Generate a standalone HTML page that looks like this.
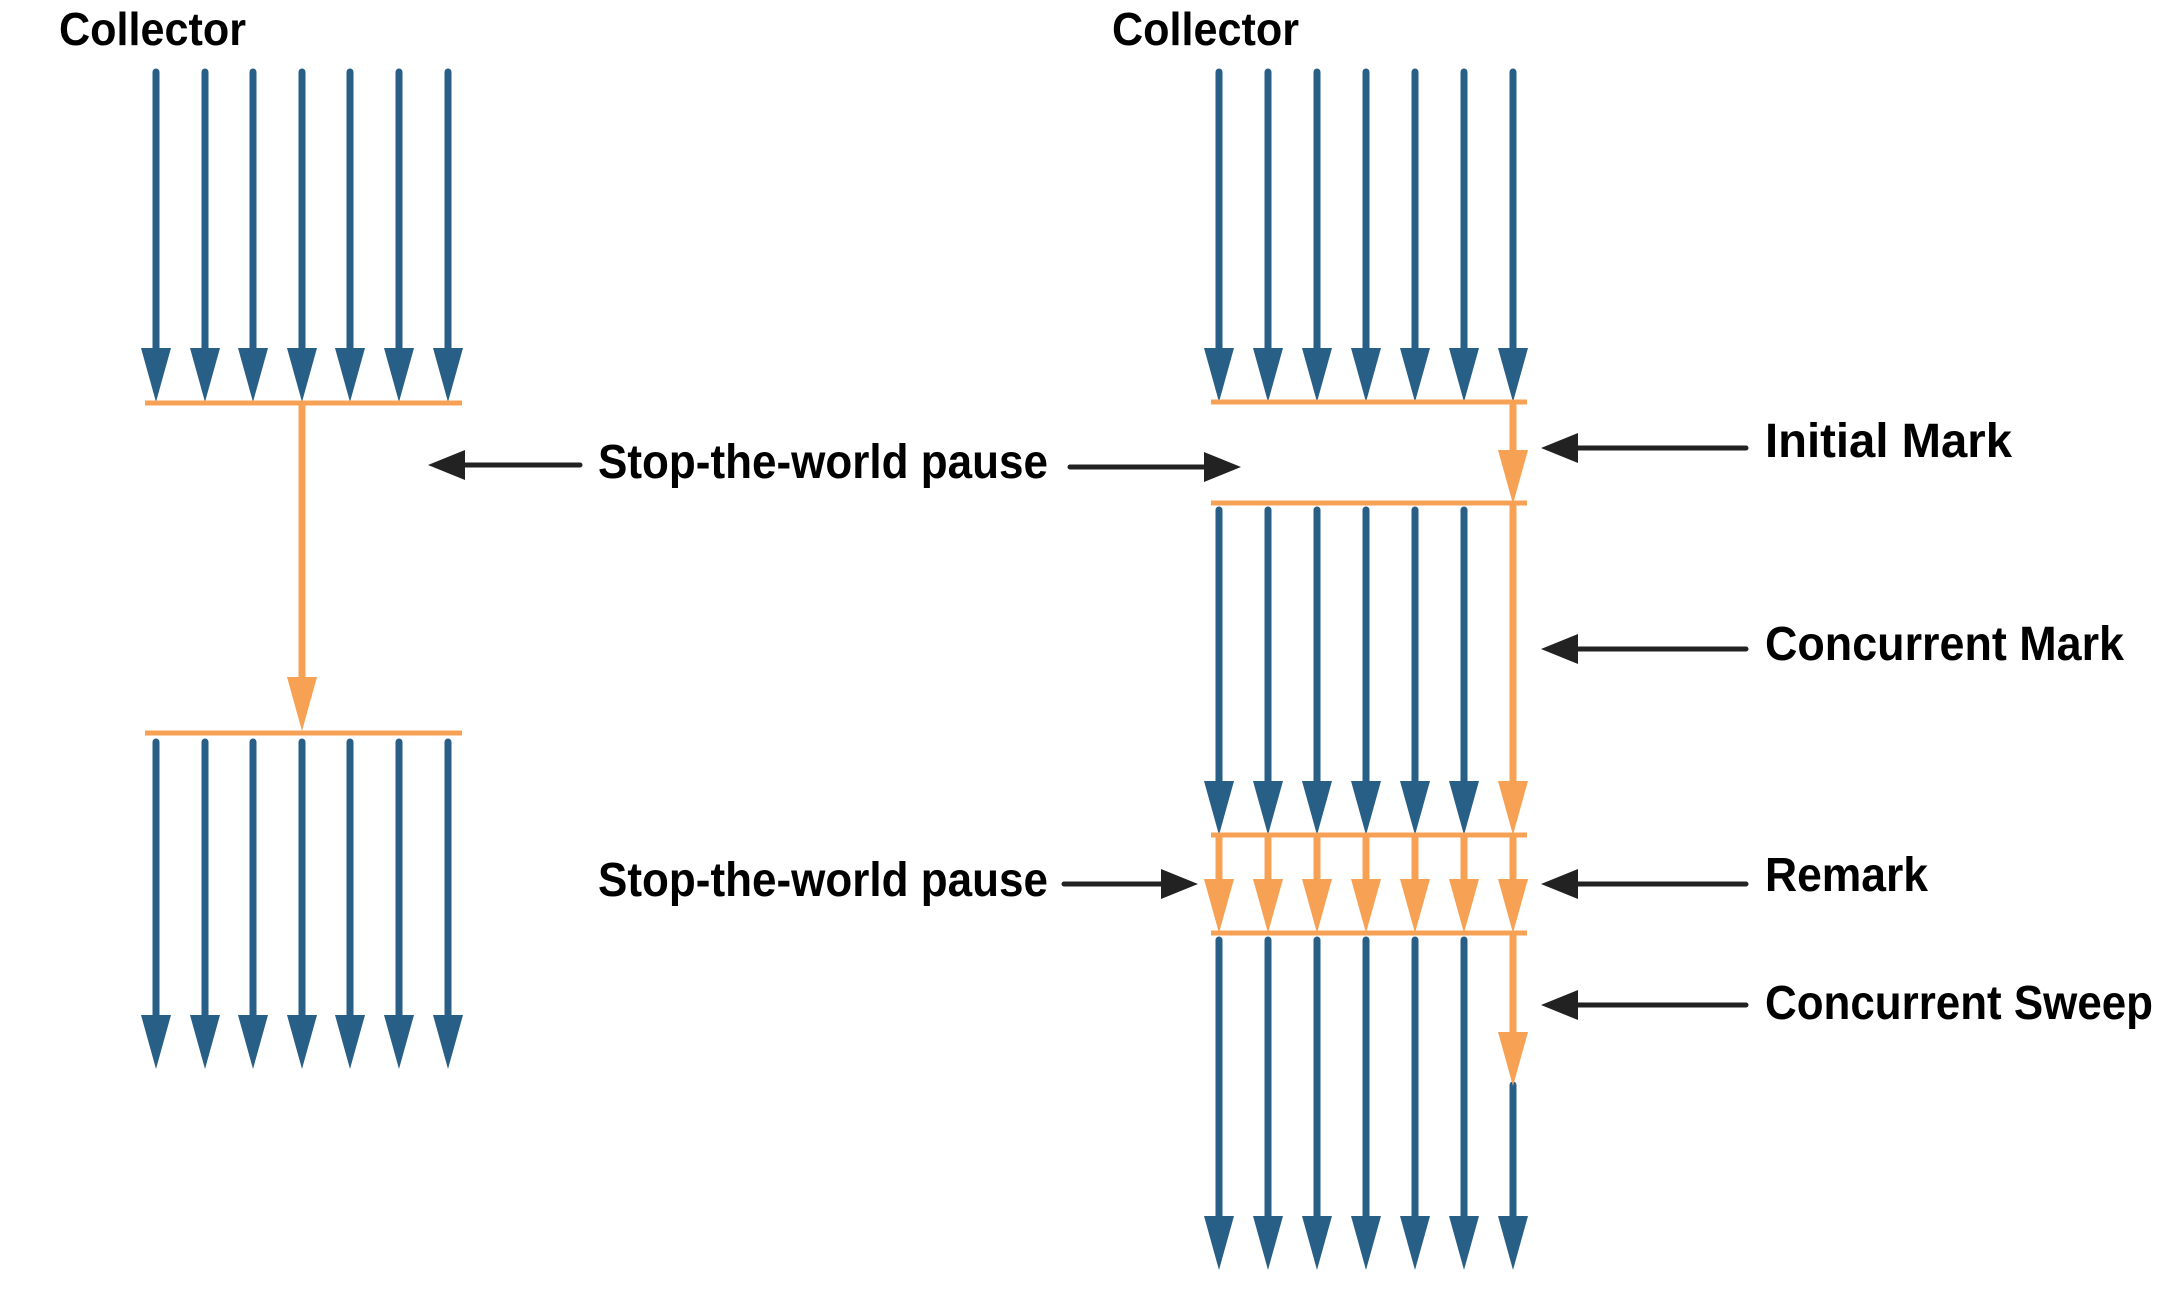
<!DOCTYPE html>
<html><head><meta charset="utf-8"><style>html,body{margin:0;padding:0;background:#fff}svg{display:block}text{font-family:"Liberation Sans",sans-serif;font-weight:bold;fill:#000}</style></head>
<body>
<svg width="2178" height="1291" viewBox="0 0 2178 1291" xmlns="http://www.w3.org/2000/svg">
<defs>
<g id="bh"><polygon points="-15,0 15,0 0,54" fill="#285f87"/></g>
<g id="oh"><polygon points="-15,0 15,0 0,54" fill="#f7a154"/></g>
</defs>
<g stroke-linecap="round">
<!-- LEFT -->
<g stroke="#285f87" stroke-width="7">
<line x1="156" y1="72" x2="156" y2="350"/><line x1="205" y1="72" x2="205" y2="350"/><line x1="253" y1="72" x2="253" y2="350"/><line x1="302" y1="72" x2="302" y2="350"/><line x1="350" y1="72" x2="350" y2="350"/><line x1="399" y1="72" x2="399" y2="350"/><line x1="448" y1="72" x2="448" y2="350"/>
<line x1="156" y1="742" x2="156" y2="1017"/><line x1="205" y1="742" x2="205" y2="1017"/><line x1="253" y1="742" x2="253" y2="1017"/><line x1="302" y1="742" x2="302" y2="1017"/><line x1="350" y1="742" x2="350" y2="1017"/><line x1="399" y1="742" x2="399" y2="1017"/><line x1="448" y1="742" x2="448" y2="1017"/>
</g>
<use href="#bh" x="156" y="348"/><use href="#bh" x="205" y="348"/><use href="#bh" x="253" y="348"/><use href="#bh" x="302" y="348"/><use href="#bh" x="350" y="348"/><use href="#bh" x="399" y="348"/><use href="#bh" x="448" y="348"/>
<use href="#bh" x="156" y="1015"/><use href="#bh" x="205" y="1015"/><use href="#bh" x="253" y="1015"/><use href="#bh" x="302" y="1015"/><use href="#bh" x="350" y="1015"/><use href="#bh" x="399" y="1015"/><use href="#bh" x="448" y="1015"/>
<line x1="145" y1="403" x2="462" y2="403" stroke="#f7a154" stroke-width="5" stroke-linecap="butt"/>
<line x1="145" y1="733" x2="462" y2="733" stroke="#f7a154" stroke-width="5" stroke-linecap="butt"/>
<line x1="302" y1="405" x2="302" y2="680"/>
<line x1="302" y1="405" x2="302" y2="680" stroke="#f7a154" stroke-width="7"/>
<use href="#oh" x="302" y="677"/>

<!-- RIGHT -->
<g stroke="#285f87" stroke-width="7">
<line x1="1219" y1="72" x2="1219" y2="350"/><line x1="1268" y1="72" x2="1268" y2="350"/><line x1="1317" y1="72" x2="1317" y2="350"/><line x1="1366" y1="72" x2="1366" y2="350"/><line x1="1415" y1="72" x2="1415" y2="350"/><line x1="1464" y1="72" x2="1464" y2="350"/><line x1="1513" y1="72" x2="1513" y2="350"/>
<line x1="1219" y1="510" x2="1219" y2="785"/><line x1="1268" y1="510" x2="1268" y2="785"/><line x1="1317" y1="510" x2="1317" y2="785"/><line x1="1366" y1="510" x2="1366" y2="785"/><line x1="1415" y1="510" x2="1415" y2="785"/><line x1="1464" y1="510" x2="1464" y2="785"/>
<line x1="1219" y1="940" x2="1219" y2="1218"/><line x1="1268" y1="940" x2="1268" y2="1218"/><line x1="1317" y1="940" x2="1317" y2="1218"/><line x1="1366" y1="940" x2="1366" y2="1218"/><line x1="1415" y1="940" x2="1415" y2="1218"/><line x1="1464" y1="940" x2="1464" y2="1218"/><line x1="1513" y1="1085" x2="1513" y2="1218"/>
</g>
<use href="#bh" x="1219" y="348"/><use href="#bh" x="1268" y="348"/><use href="#bh" x="1317" y="348"/><use href="#bh" x="1366" y="348"/><use href="#bh" x="1415" y="348"/><use href="#bh" x="1464" y="348"/><use href="#bh" x="1513" y="348"/>
<use href="#bh" x="1219" y="781"/><use href="#bh" x="1268" y="781"/><use href="#bh" x="1317" y="781"/><use href="#bh" x="1366" y="781"/><use href="#bh" x="1415" y="781"/><use href="#bh" x="1464" y="781"/>
<use href="#bh" x="1219" y="1216"/><use href="#bh" x="1268" y="1216"/><use href="#bh" x="1317" y="1216"/><use href="#bh" x="1366" y="1216"/><use href="#bh" x="1415" y="1216"/><use href="#bh" x="1464" y="1216"/><use href="#bh" x="1513" y="1216"/>
<g stroke="#f7a154" stroke-width="5" stroke-linecap="butt">
<line x1="1211" y1="402" x2="1527" y2="402"/><line x1="1211" y1="503" x2="1527" y2="503"/><line x1="1211" y1="835" x2="1527" y2="835"/><line x1="1211" y1="933" x2="1527" y2="933"/>
</g>
<g stroke="#f7a154" stroke-width="7">
<line x1="1513" y1="406" x2="1513" y2="452"/>
<line x1="1513" y1="506" x2="1513" y2="785"/>
<line x1="1219" y1="838" x2="1219" y2="882"/><line x1="1268" y1="838" x2="1268" y2="882"/><line x1="1317" y1="838" x2="1317" y2="882"/><line x1="1366" y1="838" x2="1366" y2="882"/><line x1="1415" y1="838" x2="1415" y2="882"/><line x1="1464" y1="838" x2="1464" y2="882"/><line x1="1513" y1="838" x2="1513" y2="882"/>
<line x1="1513" y1="936" x2="1513" y2="1035"/>
</g>
<use href="#oh" x="1513" y="450"/>
<use href="#oh" x="1513" y="781"/>
<use href="#oh" x="1219" y="879"/><use href="#oh" x="1268" y="879"/><use href="#oh" x="1317" y="879"/><use href="#oh" x="1366" y="879"/><use href="#oh" x="1415" y="879"/><use href="#oh" x="1464" y="879"/><use href="#oh" x="1513" y="879"/>
<use href="#oh" x="1513" y="1032"/>

<!-- black arrows -->
<g stroke="#222" stroke-width="5">
<line x1="580" y1="465" x2="455" y2="465"/>
<line x1="1070" y1="467" x2="1210" y2="467"/>
<line x1="1064" y1="884" x2="1170" y2="884"/>
<line x1="1746" y1="448" x2="1570" y2="448"/>
<line x1="1746" y1="649" x2="1570" y2="649"/>
<line x1="1746" y1="884" x2="1570" y2="884"/>
<line x1="1746" y1="1005" x2="1570" y2="1005"/>
</g>
<g fill="#222">
<polygon points="428,465 465,450 465,480"/>
<polygon points="1241,467 1204,452 1204,482"/>
<polygon points="1198,884 1161,869 1161,899"/>
<polygon points="1541,448 1578,433 1578,463"/>
<polygon points="1541,649 1578,634 1578,664"/>
<polygon points="1541,884 1578,869 1578,899"/>
<polygon points="1541,1005 1578,990 1578,1020"/>
</g>
</g>
<text x="59" y="45" font-size="46" textLength="187" lengthAdjust="spacingAndGlyphs">Collector</text>
<text x="1112" y="45" font-size="46" textLength="187" lengthAdjust="spacingAndGlyphs">Collector</text>
<text x="598" y="478" font-size="48" textLength="450" lengthAdjust="spacingAndGlyphs">Stop-the-world pause</text>
<text x="598" y="896" font-size="48" textLength="450" lengthAdjust="spacingAndGlyphs">Stop-the-world pause</text>
<text x="1765" y="457" font-size="48" textLength="247" lengthAdjust="spacingAndGlyphs">Initial Mark</text>
<text x="1765" y="660" font-size="48" textLength="359" lengthAdjust="spacingAndGlyphs">Concurrent Mark</text>
<text x="1765" y="891" font-size="48" textLength="163" lengthAdjust="spacingAndGlyphs">Remark</text>
<text x="1765" y="1019" font-size="48" textLength="388" lengthAdjust="spacingAndGlyphs">Concurrent Sweep</text>
</svg>
</body></html>
